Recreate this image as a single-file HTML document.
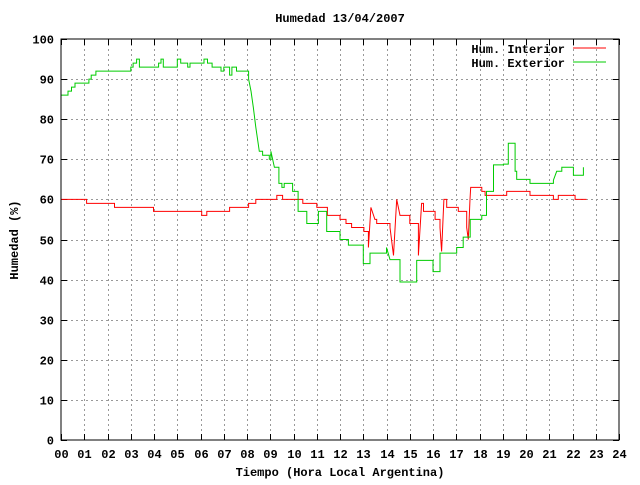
<!DOCTYPE html>
<html><head><meta charset="utf-8"><style>
body{margin:0;background:#fff}
svg text{font-family:"Liberation Mono",monospace;font-weight:bold;font-size:12px;fill:#000}
</style></head><body>
<svg width="640" height="480" xmlns="http://www.w3.org/2000/svg">
<rect width="640" height="480" fill="#fff"/>
<g id="grid"></g>
<g id="ticks"></g>
<g id="series"></g>
<rect x="61" y="39" width="558" height="401" fill="none" stroke="#000" stroke-width="1"/>
<text x="340" y="22" text-anchor="middle">Humedad 13/04/2007</text>
<text x="340" y="476" text-anchor="middle">Tiempo (Hora Local Argentina)</text>
<text transform="translate(18,240) rotate(-90)" text-anchor="middle">Humedad (%)</text>
<g>
<text x="565" y="53" text-anchor="end">Hum. Interior</text>
<line x1="573" y1="48" x2="606" y2="48" stroke="#f00"/>
<text x="565" y="67" text-anchor="end">Hum. Exterior</text>
<line x1="573" y1="62" x2="606" y2="62" stroke="#0c0"/>
</g>
</svg>
<script>
const xTicks=["00","01","02","03","04","05","06","07","08","09","10","11","12","13","14","15","16","17","18","19","20","21","22","23","24"];
const yTicks=[0,10,20,30,40,50,60,70,80,90,100];
const interiorHours=[0,1.1,2.3,3.6,3.98,6.05,6.27,7.25,8.07,8.38,9.28,9.53,10.4,11.0,11.46,12.0,12.26,12.5,13.03,13.22,13.33,13.5,13.58,14.15,14.3,14.44,14.58,15.0,15.37,15.51,15.59,16.09,16.3,16.37,16.47,16.59,17.09,17.45,17.52,17.59,17.62,18.1,18.24,19.17,20.17,21.18,21.39,22.11,22.6];
const interiorValues=[60,59,58,58,57,56,57,58,59,60,61,60,59,58,56,55,54,53,52,48,58,55,54,53,46,60,56,54,46,59,57,55,53,47,60,58,57,53,50,60,63,62,61,62,61,60,61,60,60];
const exteriorHours=[0,0.3,0.45,0.6,1.2,1.3,1.5,3.0,3.1,3.25,3.37,4.2,4.3,4.4,5.0,5.15,5.45,5.55,6.15,6.3,6.5,6.88,7.0,7.25,7.35,7.55,8.0,8.07,8.17,8.27,8.38,8.53,8.67,8.96,9.03,9.18,9.37,9.5,9.6,9.96,10.2,10.57,11.07,11.43,12.0,12.36,13.0,13.29,14.0,14.15,14.58,15.3,16.0,16.3,17.02,17.3,17.6,18.1,18.3,18.6,19.03,19.24,19.53,19.6,20.17,21.18,21.32,21.54,22.04,22.47];
const exteriorValues=[86,87,88,89,90,91,92,93,94,95,93,94,95,93,95,94,93,94,95,94,93,92,93,91,93,92,92,90,87,83,78,72,71,70,72,68,64,63,64,62,57,54,57,52,50,48.6,44,46.6,48,45,39.4,44.8,42,46.6,48,50.6,55,56,62,68.6,68.8,74,67,65,64,64.8,67,68,66,68];
const L=61,R=619,T=39,B=440;
const xs=h=>L+h*(R-L)/24, ys=v=>B-v*(B-T)/100;
const NS="http://www.w3.org/2000/svg";
function mk(tag,attrs,parent){const e=document.createElementNS(NS,tag);for(const k in attrs)e.setAttribute(k,attrs[k]);parent.appendChild(e);return e;}
const svg=document.querySelector('svg');
const grid=document.getElementById('grid'),ticks=document.getElementById('ticks'),ser=document.getElementById('series');
xTicks.forEach((t,i)=>{const x=Math.round(xs(i))+0.5;
 if(i>0&&i<24){const g=mk('line',{x1:x,y1:T,x2:x,y2:B,stroke:'#999','stroke-dasharray':'2,3'},grid);
 
 }
 const a=mk('line',{x1:x,y1:B,x2:x,y2:B-6,stroke:'#000'},ticks);
 
 
 const b=mk('line',{x1:x,y1:T,x2:x,y2:T+6,stroke:'#000'},ticks);
 
 
 const tx=mk('text',{x:x,y:458,'text-anchor':'middle'},svg);tx.textContent=t;
 
 
});
yTicks.forEach(v=>{const y=Math.round(ys(v))+0.5;
 if(v>0&&v<100){const g=mk('line',{x1:L,y1:y,x2:R,y2:y,stroke:'#999','stroke-dasharray':'2,3'},grid);
 
 }
 const a=mk('line',{x1:L,y1:y,x2:L+6,y2:y,stroke:'#000'},ticks);
 
 
 const b=mk('line',{x1:R,y1:y,x2:R-6,y2:y,stroke:'#000'},ticks);
 
 
 const tx=mk('text',{x:54,y:y+4,'text-anchor':'end'},svg);tx.textContent=v;
 
 
});
function stepPath(hs,vs){let d='M'+xs(hs[0]).toFixed(1)+','+ys(vs[0]).toFixed(1);
 for(let i=1;i<hs.length;i++){
  const x=xs(hs[i]).toFixed(1),y=ys(vs[i]).toFixed(1);
  if(hs[i]-hs[i-1]<0.17&&Math.abs(vs[i]-vs[i-1])>2){d+=' L'+x+','+y;}
  else{d+=' H'+x+' V'+y;}
 }return d;}
const pi=mk('path',{d:stepPath(interiorHours,interiorValues),fill:'none',stroke:'#f00','stroke-width':1},ser);


const pe=mk('path',{d:stepPath(exteriorHours,exteriorValues),fill:'none',stroke:'#0c0','stroke-width':1},ser);


</script>
</body></html>
